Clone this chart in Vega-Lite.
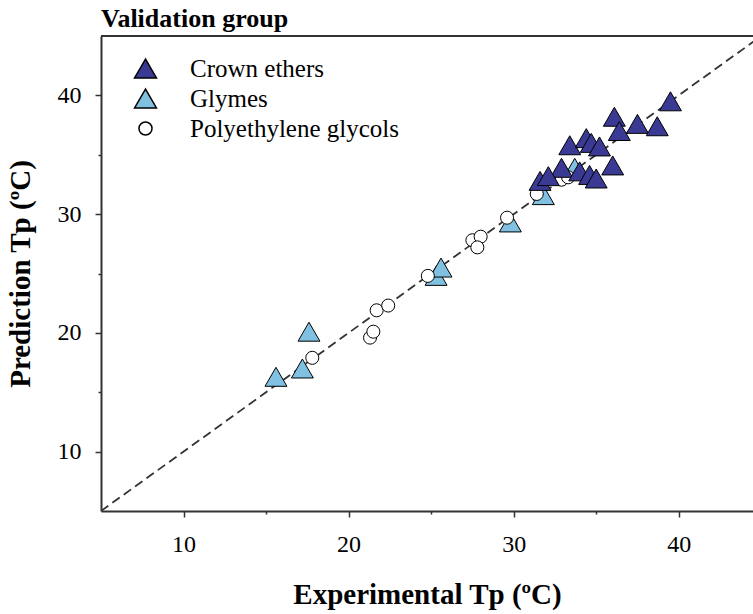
{
  "$schema": "https://vega.github.io/schema/vega-lite/v6.json",
  "width": 652,
  "height": 475,
  "autosize": {"type": "none"},
  "padding": {"left": 101, "top": 36, "right": 0, "bottom": 103},
  "background": "white",
  "title": {"text": "Validation group", "anchor": "start", "frame": "group", "font": "Liberation Serif", "fontSize": 26, "fontWeight": "bold", "color": "black", "offset": 3},
  "config": {"view": {"stroke": null}},
  "datasets": {
    "points": [
      {"group": "Glymes", "experimental": 15.6, "predicted": 16.3},
      {"group": "Glymes", "experimental": 17.2, "predicted": 17.0},
      {"group": "Glymes", "experimental": 17.6, "predicted": 20.1},
      {"group": "Glymes", "experimental": 25.3, "predicted": 24.8},
      {"group": "Glymes", "experimental": 25.6, "predicted": 25.5},
      {"group": "Glymes", "experimental": 29.8, "predicted": 29.3},
      {"group": "Glymes", "experimental": 31.8, "predicted": 31.6},
      {"group": "Glymes", "experimental": 33.7, "predicted": 33.9},
      {"group": "Polyethylene glycols", "experimental": 17.8, "predicted": 17.9},
      {"group": "Polyethylene glycols", "experimental": 21.3, "predicted": 19.6},
      {"group": "Polyethylene glycols", "experimental": 21.5, "predicted": 20.1},
      {"group": "Polyethylene glycols", "experimental": 21.7, "predicted": 21.9},
      {"group": "Polyethylene glycols", "experimental": 22.4, "predicted": 22.3},
      {"group": "Polyethylene glycols", "experimental": 24.8, "predicted": 24.8},
      {"group": "Polyethylene glycols", "experimental": 27.5, "predicted": 27.8},
      {"group": "Polyethylene glycols", "experimental": 28.0, "predicted": 28.1},
      {"group": "Polyethylene glycols", "experimental": 27.8, "predicted": 27.2},
      {"group": "Polyethylene glycols", "experimental": 29.6, "predicted": 29.7},
      {"group": "Polyethylene glycols", "experimental": 31.4, "predicted": 31.7},
      {"group": "Polyethylene glycols", "experimental": 32.9, "predicted": 32.9},
      {"group": "Polyethylene glycols", "experimental": 33.3, "predicted": 33.1},
      {"group": "Crown ethers", "experimental": 39.5, "predicted": 39.5},
      {"group": "Crown ethers", "experimental": 36.1, "predicted": 38.2},
      {"group": "Crown ethers", "experimental": 37.5, "predicted": 37.6},
      {"group": "Crown ethers", "experimental": 38.7, "predicted": 37.4},
      {"group": "Crown ethers", "experimental": 36.4, "predicted": 37.0},
      {"group": "Crown ethers", "experimental": 33.4, "predicted": 35.8},
      {"group": "Crown ethers", "experimental": 34.4, "predicted": 36.4},
      {"group": "Crown ethers", "experimental": 34.7, "predicted": 36.0},
      {"group": "Crown ethers", "experimental": 35.2, "predicted": 35.7},
      {"group": "Crown ethers", "experimental": 36.0, "predicted": 34.1},
      {"group": "Crown ethers", "experimental": 32.9, "predicted": 33.9},
      {"group": "Crown ethers", "experimental": 34.0, "predicted": 33.6},
      {"group": "Crown ethers", "experimental": 34.6, "predicted": 33.3},
      {"group": "Crown ethers", "experimental": 35.0, "predicted": 33.0},
      {"group": "Crown ethers", "experimental": 31.6, "predicted": 32.8},
      {"group": "Crown ethers", "experimental": 32.1, "predicted": 33.2}
    ]
  },
  "layer": [
    {
      "data": {"values": [{}]},
      "mark": {"type": "rule", "color": "#333", "strokeWidth": 1.8, "strokeDash": [9, 5], "clip": true},
      "encoding": {
        "x": {"datum": 5, "type": "quantitative", "scale": {"domain": [5, 44.5], "nice": false, "zero": false}},
        "y": {"datum": 5, "type": "quantitative", "scale": {"domain": [5, 45], "nice": false, "zero": false}},
        "x2": {"datum": 45},
        "y2": {"datum": 45}
      }
    },
    {
      "data": {"values": [{}]},
      "mark": {"type": "rule", "color": "#333", "strokeWidth": 2},
      "encoding": {
        "x": {"datum": 5, "type": "quantitative", "scale": {"domain": [5, 44.5], "nice": false, "zero": false}},
        "x2": {"datum": 44.5},
        "y": {"datum": 45, "type": "quantitative", "scale": {"domain": [5, 45], "nice": false, "zero": false}}
      }
    },
    {
      "data": {"name": "points"},
      "mark": {"type": "point", "filled": true, "stroke": "black", "strokeWidth": 1, "opacity": 1},
      "encoding": {
        "x": {
          "field": "experimental", "type": "quantitative",
          "scale": {"domain": [5, 44.5], "nice": false, "zero": false},
          "title": "Experimental Tp (ºC)",
          "axis": {
            "values": [10, 15, 20, 25, 30, 35, 40],
            "labelExpr": "datum.value % 10 == 0 ? datum.label : ''",
            "tickSize": {"condition": {"test": "datum.value % 10 != 0", "value": 3}, "value": 6},
            "grid": false,
            "domainColor": "#333", "domainWidth": 2,
            "tickColor": "#333", "tickWidth": 1.5,
            "labelFont": "Liberation Serif", "labelFontSize": 24, "labelColor": "black", "labelPadding": 15,
            "titleFont": "Liberation Serif", "titleFontSize": 29, "titleFontWeight": "bold", "titleColor": "black", "titlePadding": 24
          }
        },
        "y": {
          "field": "predicted", "type": "quantitative",
          "scale": {"domain": [5, 45], "nice": false, "zero": false},
          "title": "Prediction Tp (ºC)",
          "axis": {
            "values": [10, 15, 20, 25, 30, 35, 40],
            "labelExpr": "datum.value % 10 == 0 ? datum.label : ''",
            "tickSize": {"condition": {"test": "datum.value % 10 != 0", "value": 3}, "value": 6},
            "grid": false,
            "domainColor": "#333", "domainWidth": 2,
            "tickColor": "#333", "tickWidth": 1.5,
            "labelFont": "Liberation Serif", "labelFontSize": 24, "labelColor": "black", "labelPadding": 14,
            "titleFont": "Liberation Serif", "titleFontSize": 29, "titleFontWeight": "bold", "titleColor": "black", "titlePadding": 22
          }
        },
        "shape": {
          "field": "group", "type": "nominal",
          "scale": {"domain": ["Crown ethers", "Glymes", "Polyethylene glycols"], "range": ["triangle-up", "triangle-up", "circle"]},
          "legend": {"title": null, "orient": "none", "legendX": 32, "legendY": 20, "padding": 0, "labelFont": "Liberation Serif", "labelFontSize": 25, "labelColor": "black", "labelLimit": 0, "rowPadding": 4, "labelOffset": 32, "encode": {"symbols": {"update": {"stroke": {"value": "black"}, "strokeWidth": {"value": 1}}}}}
        },
        "fill": {
          "field": "group", "type": "nominal",
          "scale": {"domain": ["Crown ethers", "Glymes", "Polyethylene glycols"], "range": ["#3a3a94", "#80c0e0", "white"]},
          "legend": {"title": null, "orient": "none", "legendX": 32, "legendY": 20, "padding": 0, "labelFont": "Liberation Serif", "labelFontSize": 25, "labelColor": "black", "labelLimit": 0, "rowPadding": 4, "labelOffset": 32, "encode": {"symbols": {"update": {"stroke": {"value": "black"}, "strokeWidth": {"value": 1}}}}}
        },
        "size": {
          "field": "group", "type": "nominal",
          "scale": {"type": "ordinal", "domain": ["Crown ethers", "Glymes", "Polyethylene glycols"], "range": [480, 480, 170]},
          "legend": {"title": null, "orient": "none", "legendX": 32, "legendY": 20, "padding": 0, "labelFont": "Liberation Serif", "labelFontSize": 25, "labelColor": "black", "labelLimit": 0, "rowPadding": 4, "labelOffset": 32, "encode": {"symbols": {"update": {"stroke": {"value": "black"}, "strokeWidth": {"value": 1}}}}}
        }
      }
    }
  ]
}
